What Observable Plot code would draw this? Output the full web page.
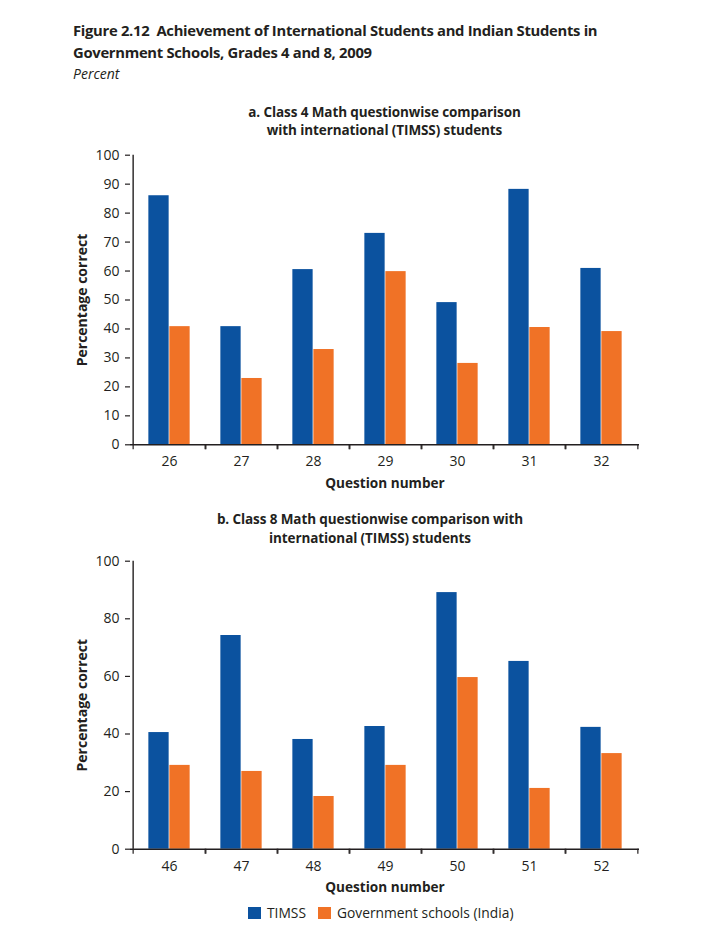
<!DOCTYPE html>
<html><head><meta charset="utf-8">
<script src="https://cdn.jsdelivr.net/npm/d3@7"></script>
<script src="https://cdn.jsdelivr.net/npm/@observablehq/plot@0.6"></script>
<style>
body{margin:0;background:#fff;font-family:"Open Sans",sans-serif;color:#231f20;}
#wrap{position:relative;width:704px;height:934px;overflow:hidden;}
.abs{position:absolute;}
.fig{left:73px;top:19px;font-size:14.8px;font-weight:bold;line-height:22px;letter-spacing:-0.3px;}
.pct{left:73px;top:63px;font-size:14px;font-style:italic;line-height:22px;}
.ct{text-align:center;font-size:13.5px;font-weight:bold;line-height:18px;letter-spacing:-0.1px;}
.legend{top:903px;left:248px;display:flex;align-items:center;font-size:13.8px;}
.sw{width:13px;height:12px;display:inline-block;margin-right:6px;}
</style></head><body><div id="wrap">
<div class="abs fig">Figure 2.12&nbsp;&nbsp;Achievement of International Students and Indian Students in<br>Government Schools, Grades 4 and 8, 2009</div>
<div class="abs pct">Percent</div>
<div class="abs ct" style="left:130px;width:509px;top:103px;">a. Class 4 Math questionwise comparison<br>with international (TIMSS) students</div>
<div id="ca" class="abs" style="left:0;top:140px;"></div>
<div class="abs ct" style="left:120px;width:500px;top:510px;line-height:19px;">b. Class 8 Math questionwise comparison with<br>international (TIMSS) students</div>
<div id="cb" class="abs" style="left:0;top:545px;"></div>
<div class="abs legend"><span class="sw" style="background:#0b529f"></span><span style="margin-right:12px">TIMSS</span><span class="sw" style="background:#f07226"></span><span>Government schools (India)</span></div>
</div>
<script>
const questionsA = ["26","27","28","29","30","31","32"];
const timssA = [86, 40.8, 60.5, 73, 49.1, 88.2, 60.9];
const indiaA = [40.8, 22.9, 32.9, 59.8, 28.1, 40.5, 39.1];
const yTicksA = [0,10,20,30,40,50,60,70,80,90,100];

const questionsB = ["46","47","48","49","50","51","52"];
const timssB = [40.5, 74.2, 38.1, 42.6, 89.1, 65.2, 42.3];
const indiaB = [29.1, 27.0, 18.3, 29.1, 59.6, 21.1, 33.2];
const yTicksB = [0,20,40,60,80,100];

const colorTimss = "#0b529f";
const colorIndia = "#f07226";
const ink = "#231f20";

function chart(questions, timss, india, yTicks, o) {
  const width = 704, marginLeft = 130, marginRight = 65;
  const bw = (width - marginLeft - marginRight) / questions.length;
  const barW = 21;
  const rows = questions.map((q, i) => ({q, timss: timss[i], india: india[i]}));
  return Plot.plot({
    width, height: o.height, marginLeft, marginRight, marginTop: o.marginTop, marginBottom: o.marginBottom,
    style: {fontFamily: "Open Sans", fontSize: "14px", color: ink, background: "transparent"},
    x: {type: "band", domain: questions, padding: 0},
    y: {domain: [0, 100]},
    marks: [
      Plot.barY(rows, {x: "q", y: "timss", fill: colorTimss, insetLeft: bw/2 - barW, insetRight: bw/2}),
      Plot.barY(rows, {x: "q", y: "india", fill: colorIndia, insetLeft: bw/2, insetRight: bw/2 - barW}),
      Plot.axisX({tickSize: 0, tickPadding: o.tickPad, label: null}),
      Plot.axisX({tickFormat: () => "", dx: -bw/2, tickSize: 5, strokeWidth: 1.2, label: null}),
      Plot.axisX({tickFormat: () => "", dx: bw/2, tickSize: 5, strokeWidth: 1.2, label: null}),
      Plot.axisY({ticks: yTicks, tickSize: 5, tickPadding: 6, strokeWidth: 1.2, label: null}),
      Plot.ruleY([0], {stroke: ink, strokeWidth: 1.4}),
      Plot.ruleX([questions[0]], {dx: -bw/2, stroke: ink, strokeWidth: 1.4}),
      Plot.text(["Question number"], {frameAnchor: "bottom", lineAnchor: "middle", dy: o.xLabelDy, fontWeight: "bold", fontSize: 13.6, fill: ink}),
      Plot.text(["Percentage correct"], {frameAnchor: "left", textAnchor: "middle", lineAnchor: "middle", dx: -48, rotate: -90, fontWeight: "bold", fontSize: 14, fill: ink})
    ]
  });
}

document.getElementById("ca").append(chart(questionsA, timssA, indiaA, yTicksA,
  {height: 360, marginTop: 14.7, marginBottom: 55.7, tickPad: 11.5, xLabelDy: 39}));
document.getElementById("cb").append(chart(questionsB, timssB, indiaB, yTicksB,
  {height: 350, marginTop: 15.7, marginBottom: 46.3, tickPad: 12, xLabelDy: 38.5}));
</script>
</body></html>
